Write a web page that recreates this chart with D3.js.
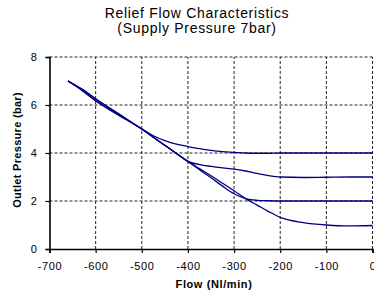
<!DOCTYPE html>
<html>
<head>
<meta charset="utf-8">
<script src="https://cdn.jsdelivr.net/npm/d3@7"></script>
<style>
  body { margin: 0; background: #fff; }
  svg { display: block; font-family: "Liberation Sans", Arial, sans-serif; }
</style>
</head>
<body>
<div id="chart"></div>
<script>
var width = 374
var height = 296
var margin = {top: 57, right: 1, bottom: 47, left: 49.5}

// flow values (Nl/min) shared by all curves
var flow = [-660, -630, -600, -550, -500, -475, -450, -425, -400, -375, -350, -325, -300, -275, -250, -225, -200, -150, -100, -50, 0]

// outlet pressure per set point (bar)
var p4 = [7.0, 6.66, 6.26, 5.63, 5.0, 4.72, 4.52, 4.37, 4.27, 4.18, 4.11, 4.06, 4.03, 4.0, 3.99, 3.99, 4.0, 4.0, 4.0, 4.0, 4.0]
var p3 = [7.0, 6.66, 6.25, 5.62, 5.0, 4.66, 4.32, 3.98, 3.65, 3.52, 3.44, 3.38, 3.33, 3.25, 3.15, 3.06, 3.0, 2.98, 2.99, 3.0, 3.0]
var p2 = [7.0, 6.62, 6.18, 5.58, 5.0, 4.66, 4.32, 3.98, 3.65, 3.3, 2.97, 2.62, 2.3, 2.1, 2.03, 2.01, 2.0, 2.0, 2.0, 2.0, 2.0]
var p1 = [7.0, 6.62, 6.18, 5.58, 5.0, 4.66, 4.32, 3.98, 3.65, 3.35, 3.05, 2.74, 2.43, 2.1, 1.83, 1.56, 1.32, 1.1, 1.0, 0.96, 0.98]
var series = [p4, p3, p2, p1]

var xTicks = [-700, -600, -500, -400, -300, -200, -100, 0]
var yTicks = [0, 2, 4, 6, 8]

var svg = d3.select("#chart")
    .append("svg")
    .attr("width", width)
    .attr("height", height)

var x = d3.scaleLinear().domain([-700, 0]).range([margin.left, width - margin.right - 0.5])
var y = d3.scaleLinear().domain([0, 8]).range([height - margin.bottom, margin.top])

// title
svg.append("text")
    .attr("x", 197).attr("y", 18)
    .attr("text-anchor", "middle")
    .style("font-size", "14px")
    .style("letter-spacing", "0.7px")
    .text("Relief Flow Characteristics")
svg.append("text")
    .attr("x", 197).attr("y", 33)
    .attr("text-anchor", "middle")
    .style("font-size", "14px")
    .style("letter-spacing", "0.7px")
    .text("(Supply Pressure 7bar)")

// dashed gridlines
svg.append("g")
    .selectAll("line")
    .data(xTicks.slice(1))
    .enter()
    .append("line")
    .attr("x1", function(d) { return x(d) }).attr("x2", function(d) { return x(d) })
    .attr("y1", y(0)).attr("y2", y(8))
    .attr("stroke", "#222")
    .attr("stroke-dasharray", "3,2")
    .attr("stroke-width", 1)

svg.append("g")
    .selectAll("line")
    .data(yTicks.slice(1))
    .enter()
    .append("line")
    .attr("x1", x(-700)).attr("x2", x(0))
    .attr("y1", function(d) { return y(d) }).attr("y2", function(d) { return y(d) })
    .attr("stroke", "#222")
    .attr("stroke-dasharray", "3,2")
    .attr("stroke-width", 1)

// axes (plain hyphen for negatives, as in the original)
var xAxis = svg.append("g")
    .attr("transform", "translate(0," + y(0) + ")")
    .call(d3.axisBottom(x).tickValues(xTicks).tickSize(4).tickPadding(9).tickFormat(function(d) { return String(d) }))
var yAxis = svg.append("g")
    .attr("transform", "translate(" + x(-700) + ",0)")
    .call(d3.axisLeft(y).tickValues(yTicks).tickSize(4).tickPadding(8).tickFormat(function(d) { return String(d) }))

xAxis.select(".domain").attr("stroke-width", 1.6)
yAxis.select(".domain").attr("stroke-width", 1.6)
svg.selectAll(".tick text")
    .style("font-size", "11px")
    .style("letter-spacing", "0.6px")
    .style("font-family", "Liberation Sans, Arial, sans-serif")
svg.selectAll(".tick line").attr("stroke-width", 1.2)

// axis titles
svg.append("text")
    .attr("x", 214).attr("y", 288)
    .attr("text-anchor", "middle")
    .style("font-size", "11px")
    .style("letter-spacing", "0.6px")
    .style("font-weight", "bold")
    .text("Flow (Nl/min)")
svg.append("text")
    .attr("transform", "translate(21,150) rotate(-90)")
    .attr("text-anchor", "middle")
    .style("font-size", "11px")
    .style("letter-spacing", "0.3px")
    .style("font-weight", "bold")
    .text("Outlet Pressure (bar)")

// curves
var line = d3.line()
    .x(function(d, i) { return x(flow[i]) })
    .y(function(d) { return y(d) })
    .curve(d3.curveMonotoneX)

svg.append("g")
    .selectAll("path")
    .data(series)
    .enter()
    .append("path")
    .attr("d", line)
    .attr("fill", "none")
    .attr("stroke", "#000080")
    .attr("stroke-width", 1.3)
</script>
</body>
</html>
